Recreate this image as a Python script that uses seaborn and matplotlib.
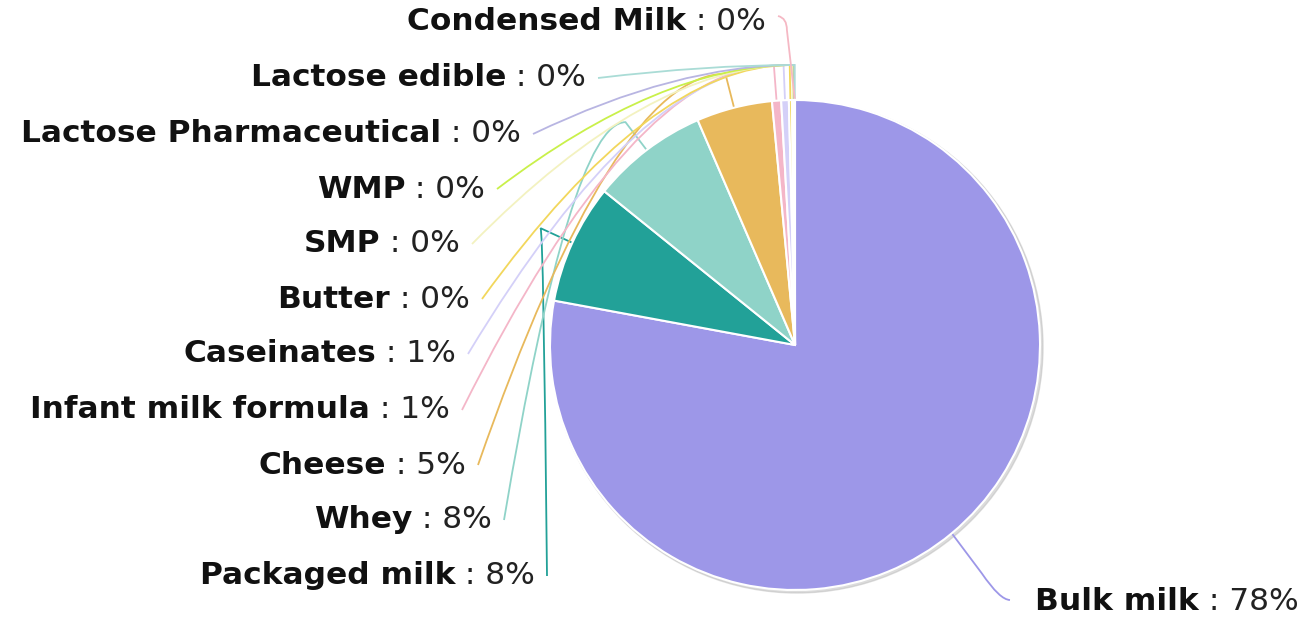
import numpy as np
import matplotlib
matplotlib.use("Agg")
import matplotlib.pyplot as plt
import seaborn as sns
from matplotlib.path import Path
from matplotlib.patches import PathPatch

# ---- data ----
categories = ["Bulk milk", "Packaged milk", "Whey", "Cheese", "Infant milk formula",
              "Caseinates", "Butter", "SMP", "WMP", "Lactose Pharmaceutical",
              "Lactose edible", "Condensed Milk"]
shares = [77.9, 7.9, 7.7, 5.0, 0.6, 0.5, 0.2, 0.1, 0.05, 0.02, 0.02, 0.01]
pct_labels = ["78%", "8%", "8%", "5%", "1%", "1%", "0%", "0%", "0%", "0%", "0%", "0%"]
colors = ["#9d97e8", "#22a198", "#8fd3c8", "#e8b95c", "#f4b6c8", "#d4d0f8",
          "#f2d75c", "#f3f2c0", "#c9f04a", "#b8b5e2", "#aadcd6", "#f5b8c4"]

# ---- layout (pixels, from top-left) ----
W, H = 1311, 618
cx, cy_top, R = 795, 345, 245
label_y_top = {"Bulk milk": 602, "Packaged milk": 576, "Whey": 520, "Cheese": 465,
               "Infant milk formula": 410, "Caseinates": 354, "Butter": 299, "SMP": 244,
               "WMP": 189, "Lactose Pharmaceutical": 134, "Lactose edible": 78,
               "Condensed Milk": 22}
label_x_end = {"Packaged milk": 535, "Whey": 492, "Cheese": 466,
               "Infant milk formula": 450, "Caseinates": 456, "Butter": 470, "SMP": 460,
               "WMP": 485, "Lactose Pharmaceutical": 521, "Lactose edible": 586,
               "Condensed Milk": 766}
bulk_x_start = 1035

sns.set_theme(style="white")
plt.rcParams['font.family'] = ['DejaVu Sans']
FS = 22.5

fig = plt.figure(figsize=(W / 100, H / 100), dpi=100)
ax = fig.add_axes([0, 0, 1, 1])
cy = H - cy_top

# shadow
shadow = plt.Circle((cx + 2, cy - 2), R + 1, color="#bbbbbb", alpha=0.5, zorder=0)
ax.add_patch(shadow)

wedges, _ = ax.pie(shares, colors=colors, startangle=90, counterclock=False,
                   radius=R, center=(cx, cy), frame=True,
                   wedgeprops=dict(edgecolor="white", linewidth=1.5))
for w in wedges:
    w.set_zorder(2)

ax.set_xlim(0, W)
ax.set_ylim(0, H)
ax.set_aspect("equal")
ax.axis("off")

fig.canvas.draw()
renderer = fig.canvas.get_renderer()
inv = ax.transData.inverted()

cum = np.cumsum([0] + shares[:-1])
total = sum(shares)
for i, name in enumerate(categories):
    mid = (cum[i] + shares[i] / 2) / total * 360.0
    th = np.deg2rad(mid)
    p0 = (cx + R * np.sin(th), cy + R * np.cos(th))
    ly = H - label_y_top[name]
    col = colors[i]
    if name == "Bulk milk":
        t1 = ax.text(bulk_x_start, ly, name, ha="left", va="center", fontsize=FS,
                     fontweight="bold", color="#111111", zorder=5)
        bb = t1.get_window_extent(renderer)
        x1 = inv.transform((bb.x1, 0))[0]
        ax.text(x1, ly, " : " + pct_labels[i], ha="left", va="center", fontsize=FS,
                color="#222222", zorder=5)
        lx = bulk_x_start - 25
        verts = [p0, (p0[0] + 30, p0[1] - 40), (lx - 10, ly + 2), (lx, ly + 2)]
        codes = [Path.MOVETO, Path.LINETO, Path.CURVE3, Path.CURVE3]
    else:
        xe = label_x_end[name]
        t2 = ax.text(xe, ly, " : " + pct_labels[i], ha="right", va="center", fontsize=FS,
                     color="#222222", zorder=5)
        bb = t2.get_window_extent(renderer)
        x0 = inv.transform((bb.x0, 0))[0]
        ax.text(x0, ly, name, ha="right", va="center", fontsize=FS,
                fontweight="bold", color="#111111", zorder=5)
        lx = xe + 12
        p1 = (cx + (R + 35) * np.sin(th), cy + (R + 35) * np.cos(th))
        if name == "Condensed Milk":
            verts = [p0, (p1[0] - 8, cy + R + 70), (p1[0] - 8, ly + 4), (lx, ly + 6)]
            codes = [Path.MOVETO, Path.LINETO, Path.CURVE3, Path.CURVE3]
        else:
            ctrl = (lx + (p1[0] - lx) * 0.55, p1[1])
            verts = [p0, p1, ctrl, (lx, ly)]
            codes = [Path.MOVETO, Path.LINETO, Path.CURVE3, Path.CURVE3]
    patch = PathPatch(Path(verts, codes), facecolor="none", edgecolor=col, lw=1.3,
                      zorder=1)
    ax.add_patch(patch)

fig.savefig("out.png", dpi=100, facecolor="white")
